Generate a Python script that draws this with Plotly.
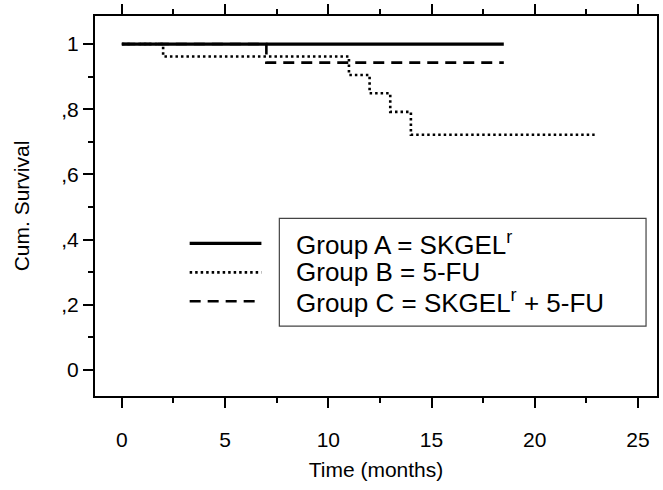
import plotly.graph_objects as go

# ---- data ----
group_a_time = [0, 18.5]
group_a_surv = [1.0, 1.0]

group_b_time = [0, 2, 11, 12, 13, 14, 22.9]
group_b_surv = [1.0, 0.962, 0.905, 0.849, 0.792, 0.722, 0.722]

group_c_time = [0, 7, 18.5]
group_c_surv = [1.0, 0.943, 0.943]

legend_labels = ["Group A = SKGEL<sup>r</sup>",
                 "Group B = 5-FU",
                 "Group C = SKGEL<sup>r</sup> + 5-FU"]

x_tick_vals = [0, 5, 10, 15, 20, 25]
y_tick_vals = [0, 0.2, 0.4, 0.6, 0.8, 1.0]
y_tick_text = ["0", ",2", ",4", ",6", ",8", "1"]

x_title = "Time (months)"
y_title = "Cum. Survival"

# ---- styles ----
FONT = "Liberation Sans, Arial, sans-serif"
styles = [dict(color="black", width=3.2, dash="solid"),
          dict(color="black", width=2.6, dash="2.5px,3px"),
          dict(color="black", width=2.6, dash="11px,7px")]

W, H = 663, 490
ML, MR, MT, MB = 95, 4, 15, 94
PW, PH = W - ML - MR, H - MT - MB


def px(xp):
    return (xp - ML) / PW


def py(yp):
    return (H - MB - yp) / PH


fig = go.Figure()
series = [(group_a_time, group_a_surv), (group_b_time, group_b_surv),
          (group_c_time, group_c_surv)]
# draw C and B first so the solid line sits on top where they overlap
for i in [2, 1, 0]:
    t, s = series[i]
    fig.add_trace(go.Scatter(x=t, y=s, mode="lines", line_shape="hv",
                             line=styles[i], showlegend=False,
                             name=legend_labels[i], hoverinfo="skip"))

# legend drawn by hand: samples outside a box framing the labels
row_y = [243, 272, 301]
for i, lab in enumerate(legend_labels):
    fig.add_shape(type="line", xref="paper", yref="paper",
                  x0=px(190), x1=px(262), y0=py(row_y[i]), y1=py(row_y[i]),
                  line=styles[i])
    fig.add_annotation(x=px(295), y=py(row_y[i]), xref="paper", yref="paper",
                       text=lab, showarrow=False, xanchor="left",
                       yanchor="middle", font=dict(size=26, color="black",
                                                   family=FONT))
fig.add_shape(type="rect", xref="paper", yref="paper",
              x0=px(280), x1=px(648), y0=py(326), y1=py(218),
              line=dict(color="#444", width=1.2), fillcolor="rgba(0,0,0,0)")

fig.update_layout(
    width=W, height=H,
    margin=dict(l=ML, r=MR, t=MT, b=MB),
    paper_bgcolor="white", plot_bgcolor="white",
    font=dict(family=FONT, color="black", size=21),
    xaxis=dict(range=[-1.3, 25.92], tickvals=x_tick_vals,
               showgrid=False, zeroline=False,
               showline=True, linecolor="black", linewidth=2,
               mirror="allticks", ticks="outside", ticklen=10, tickwidth=2,
               tickcolor="black",
               minor=dict(ticks="outside", ticklen=5, tickwidth=2,
                          tickcolor="black", dtick=2.5, tick0=0, showgrid=False),
               tickfont=dict(size=21), ticklabelstandoff=14,
               title=dict(text=x_title, font=dict(size=21), standoff=12)),
    yaxis=dict(range=[-0.0795, 1.086], tickvals=y_tick_vals,
               ticktext=y_tick_text,
               showgrid=False, zeroline=False,
               showline=True, linecolor="black", linewidth=2,
               mirror=True, ticks="outside", ticklen=10, tickwidth=2,
               tickcolor="black",
               minor=dict(ticks="outside", ticklen=5, tickwidth=2,
                          tickcolor="black", dtick=0.1, tick0=0, showgrid=False),
               tickfont=dict(size=21),
               title=dict(text=y_title, font=dict(size=21), standoff=26)),
)

fig.write_html("out.html",
               config={"displayModeBar": False},
               post_script="document.body.style.margin='0';")
